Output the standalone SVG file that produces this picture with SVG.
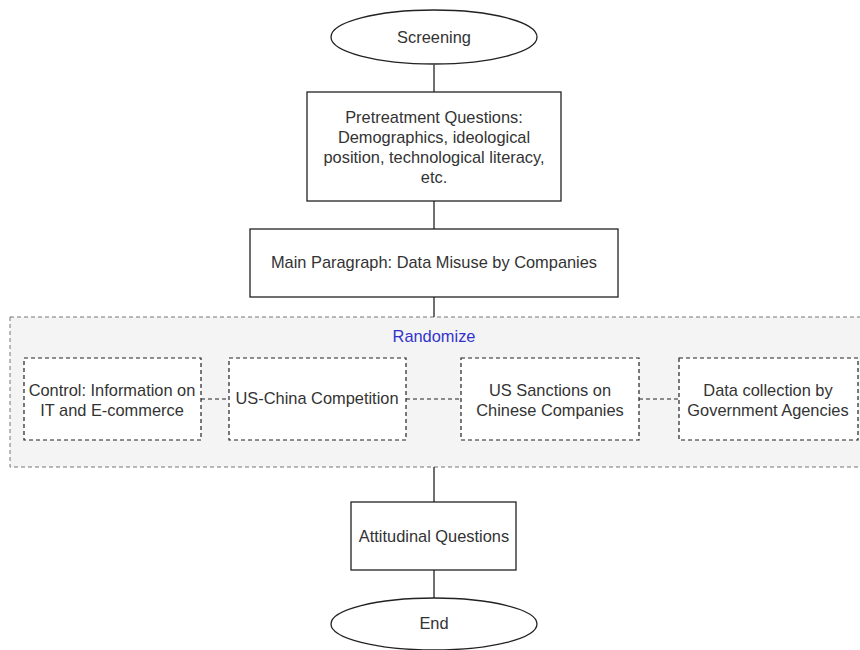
<svg xmlns="http://www.w3.org/2000/svg" width="860" height="650" viewBox="0 0 860 650">
<style>
.n{fill:#fff;stroke:#222;stroke-width:1.3}
.d{fill:#fff;stroke:#222;stroke-width:1.2;stroke-dasharray:4 3}
.c{stroke:#222;stroke-width:1.3;fill:none}
.cd{stroke:#222;stroke-width:1.2;fill:none;stroke-dasharray:4 3}
text{font-family:"Liberation Sans",Arial,sans-serif;font-size:16.4px;fill:#333;text-anchor:middle}
</style>
<rect width="860" height="650" fill="#fff"/>
<g id="randomize">
<rect x="10" y="317" width="860" height="150" fill="#f4f4f4" stroke="#777" stroke-width="1" stroke-dasharray="4 3"/>
<text x="434" y="342" style="fill:#3333cc">Randomize</text>
</g>
<g id="connectors">
<line class="c" x1="434" y1="65" x2="434" y2="92"/>
<line class="c" x1="434" y1="201" x2="434" y2="229"/>
<line class="c" x1="434" y1="297" x2="434" y2="317"/>
<line class="c" x1="434" y1="467" x2="434" y2="502"/>
<line class="c" x1="434" y1="570" x2="434" y2="598"/>
<line class="cd" x1="201" y1="399" x2="229" y2="399"/>
<line class="cd" x1="406" y1="399" x2="461" y2="399"/>
<line class="cd" x1="639" y1="399" x2="679" y2="399"/>
</g>
<g id="screening">
<ellipse class="n" cx="434" cy="37" rx="103" ry="27"/>
<text x="434" y="43">Screening</text>
</g>
<g id="pretreatment">
<rect class="n" x="307" y="92" width="254" height="109"/>
<text x="434" y="123">Pretreatment Questions:</text>
<text x="434" y="143">Demographics, ideological</text>
<text x="434" y="163">position, technological literacy,</text>
<text x="434" y="183">etc.</text>
</g>
<g id="main">
<rect class="n" x="250" y="229" width="368" height="68"/>
<text x="434" y="268">Main Paragraph: Data Misuse by Companies</text>
</g>
<g id="control">
<rect class="d" x="24" y="358" width="177" height="82"/>
<text x="112" y="396">Control: Information on</text>
<text x="112" y="416">IT and E-commerce</text>
</g>
<g id="uschina">
<rect class="d" x="229" y="358" width="177" height="82"/>
<text x="317" y="404">US-China Competition</text>
</g>
<g id="sanctions">
<rect class="d" x="461" y="358" width="178" height="82"/>
<text x="550" y="396">US Sanctions on</text>
<text x="550" y="416">Chinese Companies</text>
</g>
<g id="government">
<rect class="d" x="679" y="358" width="179" height="82"/>
<text x="768" y="396">Data collection by</text>
<text x="768" y="416">Government Agencies</text>
</g>
<g id="attitudinal">
<rect class="n" x="351" y="502" width="165" height="68"/>
<text x="434" y="542">Attitudinal Questions</text>
</g>
<g id="end">
<ellipse class="n" cx="434" cy="624" rx="103" ry="26"/>
<text x="434" y="629">End</text>
</g>
</svg>
